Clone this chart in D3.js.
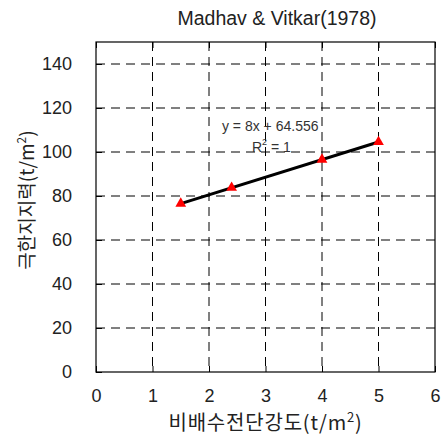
<!DOCTYPE html>
<html>
<head>
<meta charset="utf-8">
<script src="https://cdn.jsdelivr.net/npm/d3@7"></script>
<style>
  body { margin: 0; background: #fff; }
  text { font-family: "Liberation Sans", "Noto Sans CJK KR", sans-serif; }
</style>
</head>
<body>
<svg id="chart" width="448" height="436"></svg>
<script>
// data
const xValues = [1.5, 2.4, 4, 5];
const yValues = [76.556, 83.756, 96.556, 104.556];
const xTicks = [0, 1, 2, 3, 4, 5, 6];
const yTicks = [0, 20, 40, 60, 80, 100, 120, 140];
const slope = 8;
const intercept = 64.556;

const svg = d3.select('#chart');
const margin = { top: 42, right: 13, bottom: 64, left: 96 };
const width = 448 - margin.left - margin.right;
const height = 436 - margin.top - margin.bottom;

const x = d3.scaleLinear().domain([0, 6]).range([0, width]);
const y = d3.scaleLinear().domain([0, 150]).range([height, 0]);

const g = svg.append('g').attr('transform', `translate(${margin.left},${margin.top})`);

// dashed grid
g.selectAll('.vgrid')
  .data(xTicks.filter((d) => d > 0 && d < 6))
  .enter().append('line')
  .attr('x1', (d) => x(d)).attr('x2', (d) => x(d))
  .attr('y1', 0).attr('y2', height)
  .attr('stroke', '#000').attr('stroke-width', 1)
  .attr('stroke-dasharray', '9,6');

g.selectAll('.hgrid')
  .data(yTicks.filter((d) => d > 0))
  .enter().append('line')
  .attr('x1', 0).attr('x2', width)
  .attr('y1', (d) => y(d)).attr('y2', (d) => y(d))
  .attr('stroke', '#000').attr('stroke-width', 1)
  .attr('stroke-dasharray', '9,6');

// axes, ticks pointing inward
const xaxis = g.append('g')
  .attr('transform', `translate(0,${height})`)
  .call(d3.axisBottom(x).tickValues(xTicks).tickFormat(d3.format('d'))
    .tickSizeInner(-6).tickSizeOuter(0).tickPadding(17));
const xaxisTop = g.append('g')
  .call(d3.axisTop(x).tickValues(xTicks).tickSizeInner(-6).tickSizeOuter(0).tickFormat(''));
const yaxis = g.append('g')
  .call(d3.axisLeft(y).tickValues(yTicks).tickFormat(d3.format('d'))
    .tickSizeInner(-6).tickSizeOuter(0).tickPadding(24));

[xaxis, xaxisTop, yaxis].forEach((ax) => {
  ax.select('.domain').remove();
  ax.selectAll('line').attr('stroke', '#000');
  ax.selectAll('text').attr('font-size', 18).attr('fill', '#222')
    .style('font-family', '"Liberation Sans", sans-serif');
});

// frame
g.append('rect')
  .attr('width', width).attr('height', height)
  .attr('fill', 'none').attr('stroke', '#000').attr('stroke-width', 1.2);

// trend line
g.append('line')
  .attr('x1', x(d3.min(xValues))).attr('y1', y(slope * d3.min(xValues) + intercept))
  .attr('x2', x(d3.max(xValues))).attr('y2', y(slope * d3.max(xValues) + intercept))
  .attr('stroke', '#000').attr('stroke-width', 3);

// points
const tri = d3.symbol().type(d3.symbolTriangle).size(50);
g.selectAll('.pt')
  .data(xValues.map((d, i) => [d, yValues[i]]))
  .enter().append('path')
  .attr('d', tri)
  .attr('transform', (d) => `translate(${x(d[0])},${y(d[1])})`)
  .attr('fill', '#ff0000');

// equation
g.append('text')
  .attr('x', x(2.23)).attr('y', y(109.5))
  .attr('font-size', 14).attr('fill', '#333')
  .text(`y = ${slope}x + ${intercept}`);
const r2 = g.append('text')
  .attr('x', x(2.76)).attr('y', y(100))
  .attr('font-size', 14).attr('fill', '#333');
r2.append('tspan').text('R');
r2.append('tspan').attr('font-size', 9).attr('dy', -7).text('2');
r2.append('tspan').attr('dy', 7).text(' = 1');

// title
svg.append('text')
  .attr('x', 277).attr('y', 25)
  .attr('text-anchor', 'middle').attr('font-size', 19.5).attr('fill', '#222')
  .text('Madhav & Vitkar(1978)');

// x label
const xl = svg.append('text')
  .attr('x', margin.left + width / 2).attr('y', 430)
  .attr('text-anchor', 'middle').attr('font-size', 20).attr('fill', '#222')
  .attr('letter-spacing', 0.8)
  .style('font-family', '"Noto Sans CJK KR", sans-serif');
xl.append('tspan').text('비배수전단강도(t/m');
xl.append('tspan').attr('font-size', 13).attr('dy', -8).text('2');
xl.append('tspan').attr('dy', 8).text(')');

// y label
const yl = svg.append('text')
  .attr('transform', 'translate(34,200) rotate(-90)')
  .attr('text-anchor', 'middle').attr('font-size', 19).attr('fill', '#222')
  .style('font-family', '"Noto Sans CJK KR", sans-serif');
yl.append('tspan').text('극한지지력(t/m');
yl.append('tspan').attr('font-size', 12).attr('dy', -8).text('2');
yl.append('tspan').attr('dy', 8).text(')');
</script>
</body>
</html>
